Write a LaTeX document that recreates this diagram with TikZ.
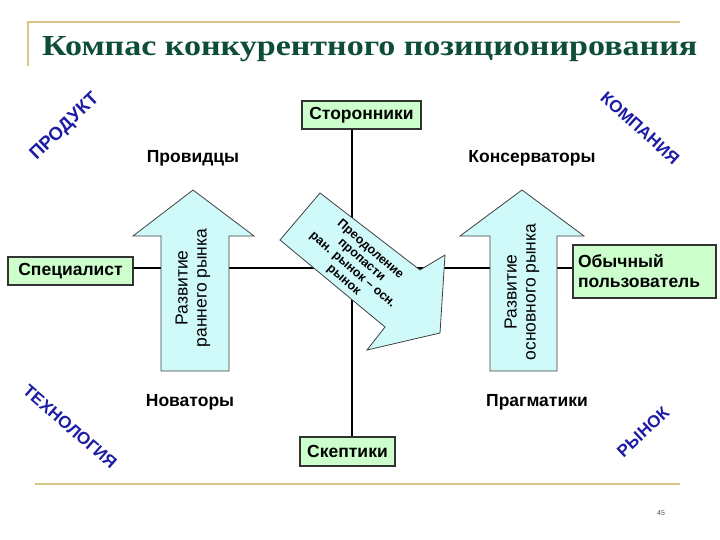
\documentclass[tikz,border=0pt]{standalone}
\usepackage{fontspec}
\setmainfont{Liberation Sans}
\newfontfamily\titlefont{Liberation Serif}
\usepackage{graphicx}
\definecolor{gold}{RGB}{214,198,134}
\definecolor{titlegreen}{RGB}{14,78,56}
\definecolor{boxgreen}{RGB}{204,255,204}
\definecolor{arrowcyan}{RGB}{208,250,250}
\definecolor{cornerblue}{RGB}{28,28,165}
\begin{document}
\begin{tikzpicture}[x=1pt,y=-1pt,
  boxnode/.style={draw=black!80, line width=1.3pt, fill=boxgreen, inner sep=0pt,
    font=\bfseries\fontsize{17.5}{20}\selectfont},
  quadlabel/.style={font=\bfseries\fontsize{17.5}{20}\selectfont, inner sep=0pt},
  cornerlabel/.style={font=\bfseries\fontsize{17}{19}\selectfont, text=cornerblue, inner sep=0pt},
  bigarrow/.style={draw=black!75, line width=0.8pt, fill=arrowcyan},
  arrowtext/.style={font=\fontsize{17.5}{19}\selectfont, align=center, inner sep=0pt},
  axisline/.style={line width=1.6pt},
  goldline/.style={draw=gold, line width=2.5pt}]
\useasboundingbox (0,0) rectangle (720,540);
% frame lines
\coordinate (g1) at (28,22);
\coordinate (g2) at (680,22);
\coordinate (g3) at (28,66);
\coordinate (g4) at (35,484);
\coordinate (g5) at (680,484);
\draw[goldline] (g3) -- (g1) -- (g2);
\draw[goldline, line width=2pt] (g4) -- (g5);
% title
\node[anchor=base west, inner sep=0pt, text=titlegreen] (title) at (42,56)
  {\resizebox{655pt}{19pt}{\titlefont\bfseries Компас конкурентного позиционирования}};
% boxes
\node[boxnode, minimum width=119pt, minimum height=28pt] (stor) at (361.5,115) {Сторонники};
\node[boxnode, minimum width=95pt, minimum height=29pt] (skep) at (347.5,451.5) {Скептики};
\node[boxnode, minimum width=125pt, minimum height=28pt] (spec) at (70.5,271) {Специалист};
\node[boxnode, minimum width=143pt, minimum height=53pt, align=left, text width=133pt] (obych) at (644.5,271.5) {Обычный\\пользователь};
% axes
\coordinate (c) at (352,268);
\draw[axisline] (c |- stor.south) -- (c |- skep.north);
\draw[axisline] (spec.east |- c) -- (obych.west |- c);
% quadrant labels
\node[quadlabel] (prov) at (193,158) {Провидцы};
\node[quadlabel] (kons) at (532,158) {Консерваторы};
\node[quadlabel] (nov) at (190,402) {Новаторы};
\node[quadlabel] (prag) at (537,402) {Прагматики};
% corner labels
\node[cornerlabel, rotate=44, font=\bfseries\fontsize{18.5}{20}\selectfont] (prod) at (65,127) {ПРОДУКТ};
\node[cornerlabel, rotate=-42] (komp) at (640,128) {КОМПАНИЯ};
\node[cornerlabel, rotate=-41] (tech) at (70,427) {ТЕХНОЛОГИЯ};
\node[cornerlabel, rotate=43] (market) at (643,432) {РЫНОК};
% left big arrow
\draw[bigarrow] (193,190) -- (254,236) -- (229,236) -- (229,371) -- (161,371) -- (161,236) -- (133,236) -- cycle;
\node[arrowtext, rotate=90] (leftarrowtext) at (193,288) {Развитие\\раннего рынка};
% right big arrow
\draw[bigarrow] (522,190) -- (584,236) -- (557,236) -- (557,371) -- (490,371) -- (490,236) -- (460,236) -- cycle;
\node[arrowtext, rotate=90] (rightarrowtext) at (522,292) {Развитие\\основного рынка};
% diagonal arrow
\draw[bigarrow] (320,193) -- (420,270) -- (445,255) -- (440,333) -- (367,350) -- (385,327) -- (280,240) -- cycle;
\node[font=\bfseries\fontsize{12.5}{13.5}\selectfont, align=center, rotate=-41, inner sep=0pt] (diagtext) at (357,265)
  {Преодоление\\пропасти\\ран. рынок -- осн.\\рынок};
% page number
\node[font=\fontsize{7}{8}\selectfont, text=black!70] (pagenum) at (661,513) {45};
\end{tikzpicture}
\end{document}
